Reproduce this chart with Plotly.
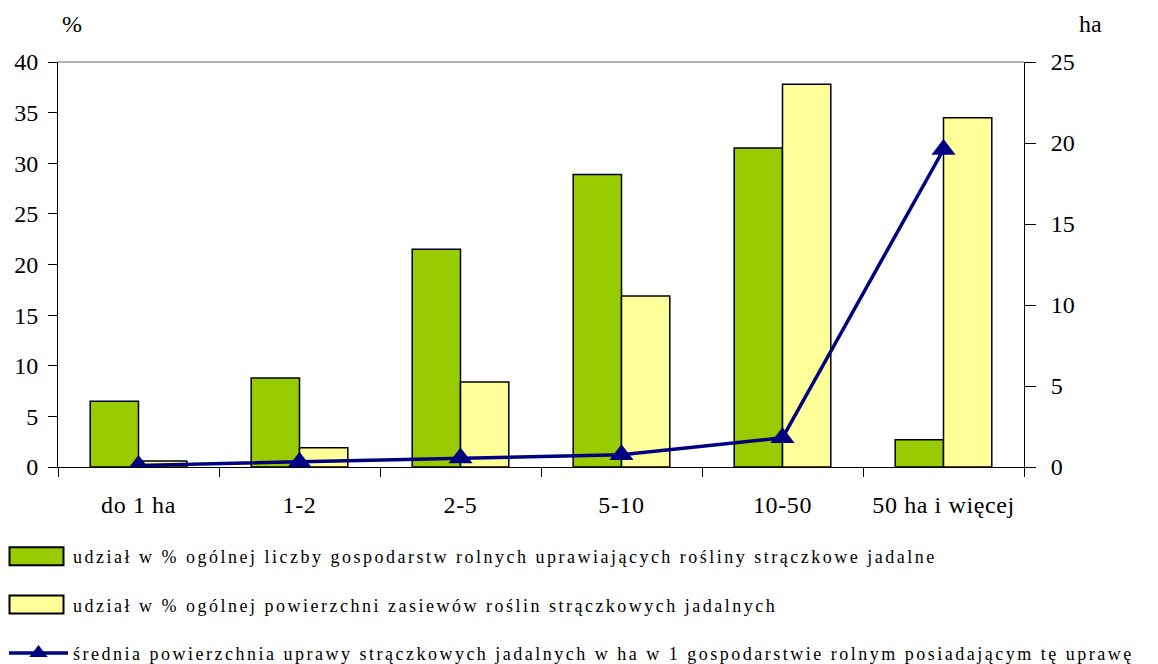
import plotly.graph_objects as go

categories = ["do 1 ha", "1-2", "2-5", "5-10", "10-50", "50 ha i więcej"]
share_farms = [6.5, 8.8, 21.5, 28.9, 31.5, 2.7]
share_area = [0.6, 1.9, 8.4, 16.9, 37.8, 34.5]
avg_area = [0.1, 0.3, 0.55, 0.75, 1.8, 19.6]

name_farms = "udział w % ogólnej liczby gospodarstw rolnych uprawiających rośliny strączkowe jadalne"
name_area = "udział w % ogólnej powierzchni zasiewów roślin strączkowych jadalnych"
name_avg = "średnia powierzchnia uprawy strączkowych jadalnych w ha w 1 gospodarstwie rolnym posiadającym tę uprawę"

font_family = "Liberation Serif"

fig = go.Figure()
fig.add_trace(go.Bar(
    x=categories, y=share_farms, name=name_farms, legendgroup="a",
    marker=dict(color="#99CC00", line=dict(color="black", width=1.5)),
))
fig.add_trace(go.Bar(
    x=categories, y=share_area, name=name_area, legendgroup="b",
    marker=dict(color="#FFFF99", line=dict(color="black", width=1.5)),
))
fig.add_trace(go.Scatter(
    x=categories, y=avg_area, name=name_avg, yaxis="y2", legendgroup="c",
    mode="lines+markers",
    line=dict(color="#000080", width=3.5),
    marker=dict(symbol="triangle-up", size=21, color="#000080"),
))

inner_ticks = dict(ticks="inside", ticklen=8, tickcolor="black", showticklabels=False,
                   showline=False, showgrid=False, zeroline=False)

fig.update_layout(
    width=1158, height=664,
    margin=dict(l=58, r=134, t=62, b=197, autoexpand=False),
    paper_bgcolor="white", plot_bgcolor="white",
    font=dict(family=font_family, size=24, color="black"),
    barmode="group", bargap=0.4, bargroupgap=0,
    showlegend=True,
    legend=dict(
        xref="container", yref="container",
        x=4 / 1158, y=1 - 538 / 664, xanchor="left", yanchor="top",
        orientation="v", tracegroupgap=22, bgcolor="rgba(0,0,0,0)",
        font=dict(family=font_family, size=18),
        itemwidth=59,
    ),
    xaxis=dict(
        showline=True, linecolor="black", linewidth=1,
        ticks="outside", ticklen=9, tickcolor="black",
        showgrid=False, zeroline=False,
        tickson="boundaries", automargin=False,
        ticklabelstandoff=16,
        tickfont=dict(family=font_family, size=24),
    ),
    xaxis2=dict(overlaying="x", type="category", categoryarray=categories,
                categoryorder="array", range=[-0.5, len(categories) - 0.5],
                tickson="boundaries", tickvals=categories, **inner_ticks),
    yaxis=dict(
        range=[0, 40], dtick=5, showline=True, linecolor="black", linewidth=1,
        ticks="outside", ticklen=9, tickcolor="black", showgrid=False, zeroline=False,
        ticklabelstandoff=5, automargin=False,
        tickfont=dict(family=font_family, size=24),
    ),
    yaxis2=dict(
        range=[0, 25], dtick=5, overlaying="y", side="right",
        showline=True, linecolor="black", linewidth=1,
        ticks="outside", ticklen=11, tickcolor="black", showgrid=False, zeroline=False,
        ticklabelstandoff=10, automargin=False,
        tickfont=dict(family=font_family, size=24),
    ),
    yaxis3=dict(range=[0, 40], dtick=5, overlaying="y", side="left", **inner_ticks),
    yaxis4=dict(range=[0, 25], dtick=5, overlaying="y", side="right", **inner_ticks),
    shapes=[dict(type="line", xref="paper", yref="paper", x0=0, x1=1, y0=1, y1=1,
                 line=dict(color="#999999", width=1.5))],
    annotations=[
        dict(text="%", xref="paper", yref="paper", x=(72 - 58) / 966, y=1 + (62 - 24) / 405,
             showarrow=False, xanchor="center", yanchor="middle", font=dict(size=24)),
        dict(text="ha", xref="paper", yref="paper", x=(1090 - 58) / 966, y=1 + (62 - 24) / 405,
             showarrow=False, xanchor="center", yanchor="middle", font=dict(size=24)),
    ],
)

post = """
document.body.style.margin='0';
try {
  var gd = document.querySelector('.plotly-graph-div');
  var items = gd.querySelectorAll('.legend .traces');
  for (var i = 0; i < 2 && i < items.length; i++) {
    var p = items[i].querySelector('.legendpoints path');
    if (p) { p.setAttribute('d', 'M27,9H-27V-9H27Z'); p.style.strokeWidth = '2px'; }
    var pg = items[i].querySelector('.legendpoints');
    if (pg) { pg.setAttribute('transform', 'translate(-2,0)'); }
  }
  gd.querySelectorAll('.legend [clip-path]').forEach(function(e){ e.removeAttribute('clip-path'); });
  gd.querySelectorAll('.legendtext').forEach(function(t){ t.style.letterSpacing = '2.5px'; });
  gd.querySelectorAll('.xtick text').forEach(function(t){ t.style.letterSpacing = '0.6px'; });
} catch (e) {}
"""

fig.write_html("out.html", post_script=post, config={"displayModeBar": False})
